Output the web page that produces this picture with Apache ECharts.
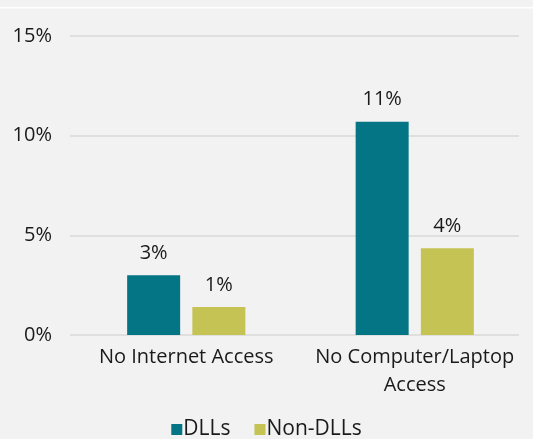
<!DOCTYPE html>
<html><head><meta charset="utf-8">
<script src="https://cdn.jsdelivr.net/npm/echarts@6/dist/echarts.min.js"></script>
<style>html,body{margin:0;padding:0;background:#f2f2f2}#c{width:533px;height:439px}</style>
</head><body><div id="c"></div>
<script>
const categories = ['No Internet Access', 'No Computer/Laptop\nAccess'];
const dlls = [3.0, 10.7];
const nonDlls = [1.4, 4.35];
const yTicks = [0, 5, 10, 15];
const seriesNames = ['DLLs', 'Non-DLLs'];

const FONT = 'Open Sans';
const TXT = '#1a1a1a';
const chart = echarts.init(document.getElementById('c'), null, {renderer: 'canvas'});
const lbl = {show: true, position: 'top', distance: 12, color: TXT, fontFamily: FONT, fontSize: 20,
  formatter: p => Math.round(p.value) + '%'};
chart.setOption({
  backgroundColor: '#f2f2f2',
  animation: false,
  graphic: [{type: 'rect', shape: {x: 0, y: 7, width: 533, height: 1.5}, style: {fill: '#ffffff'}, silent: true}],
  grid: [
    {left: 72, right: 4, top: 36, bottom: 104},
    {left: 70, right: 14, top: 36, bottom: 104}
  ],
  xAxis: [
    {type: 'category', gridIndex: 0, data: categories,
     axisLine: {show: false}, axisTick: {show: false},
     axisLabel: {interval: 0, hideOverlap: false, color: TXT, fontFamily: FONT, fontSize: 20, margin: 8, lineHeight: 28}},
    {type: 'category', gridIndex: 1, data: categories, show: false}
  ],
  yAxis: [
    {type: 'value', gridIndex: 0, min: 0, max: 15, interval: 5, show: false},
    {type: 'value', gridIndex: 1, min: yTicks[0], max: yTicks[yTicks.length - 1], interval: 5,
     axisLine: {show: false}, axisTick: {show: false},
     axisLabel: {color: TXT, fontFamily: FONT, fontSize: 20, margin: 18, formatter: v => v + '%'},
     splitLine: {lineStyle: {color: '#d9d9d9', width: 1.5}}}
  ],
  legend: {top: 419, left: 'center', padding: 0, itemWidth: 11, itemHeight: 11, itemGap: 24,
    icon: 'rect', textStyle: {color: TXT, fontFamily: FONT, fontSize: 21, padding: [0, 0, 0, -4]},
    data: seriesNames},
  series: [
    {name: seriesNames[0], type: 'bar', xAxisIndex: 0, yAxisIndex: 0, data: dlls,
     barWidth: 53, barGap: '23%', itemStyle: {color: '#047585'}, label: lbl},
    {name: seriesNames[1], type: 'bar', xAxisIndex: 0, yAxisIndex: 0, data: nonDlls,
     barWidth: 53, barGap: '23%', itemStyle: {color: '#c5c353'}, label: lbl}
  ]
});
</script></body></html>
